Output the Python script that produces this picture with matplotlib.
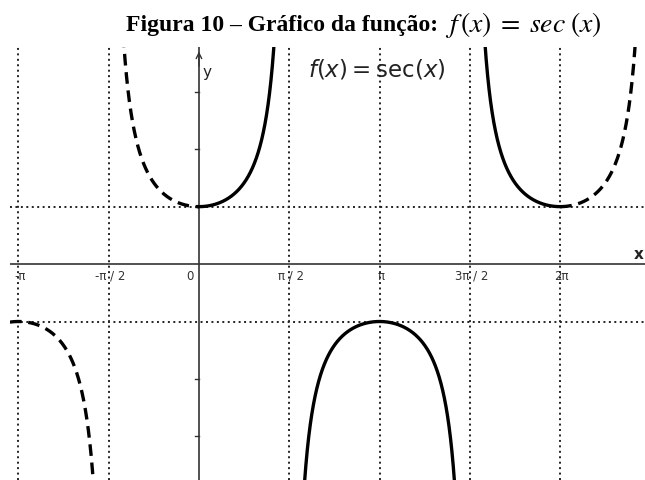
import numpy as np
import matplotlib.pyplot as plt

# x ticks (multiples of pi/2) and their labels
tick_pos = [-np.pi, -np.pi / 2, 0, np.pi / 2, np.pi, 3 * np.pi / 2, 2 * np.pi]
tick_lab = ["-π", "-π / 2", "0", "π / 2", "π", "3π / 2", "2π"]
grid_x = [-np.pi, -np.pi / 2, np.pi / 2, np.pi, 3 * np.pi / 2, 2 * np.pi]
grid_y = [1, -1]
y_ticks = [3, 2, -2, -3]

# branches of sec(x): (start, end, solid?)
branches = [
    (-3.3, -np.pi / 2, False),
    (-np.pi / 2, 0, False),
    (0, np.pi / 2, True),
    (np.pi / 2, 3 * np.pi / 2, True),
    (3 * np.pi / 2, 2 * np.pi, True),
    (2 * np.pi, 7.9, False),
]

xmin, xmax = -3.287, 7.76
ymin, ymax = -3.76, 3.78

fig = plt.figure(figsize=(6.45, 4.81), dpi=100)
ax = fig.add_axes([10 / 645, 0, 1 - 10 / 645, 1 - 48 / 481])
ax.set_xlim(xmin, xmax)
ax.set_ylim(ymin, ymax)
ax.axis("off")

dot = (0, (1, 1.8))
for gx in grid_x:
    ax.axvline(gx, color="#222222", lw=1.4, ls=dot, zorder=1)
for gy in grid_y:
    ax.axhline(gy, color="#222222", lw=1.4, ls=dot, zorder=1)

# axes lines
ax.axhline(0, color="#333333", lw=1.2, zorder=2)
ax.axvline(0, color="#333333", lw=1.2, zorder=2)
ax.annotate("", xy=(0, 3.75), xytext=(0, 3.4),
            arrowprops=dict(arrowstyle="->", color="#333333", lw=1.0))
for yt in y_ticks:
    ax.plot([-0.06, 0], [yt, yt], color="#333333", lw=1.0)

for a, b, solid in branches:
    xs = np.linspace(a + 1e-3, b - 1e-3, 1200)
    ys = 1 / np.cos(xs)
    ys[np.abs(ys) > 5] = np.nan
    ax.plot(xs, ys, color="black", lw=2.4,
            ls="-" if solid else (0, (3.5, 2)), zorder=3)

for p, lab in zip(tick_pos, tick_lab):
    dx = -0.15 if p == 0 else 0.03
    ax.text(p + dx, -0.08, lab, ha="center", va="top", fontsize=8.5,
            color="#333333")

ax.text(7.74, 0.05, "x", ha="right", va="bottom", fontsize=11,
        fontweight="bold", color="#222222")
ax.text(0.06, 3.35, "y", ha="left", va="center", fontsize=11,
        color="#222222")
ax.text(1.9, 3.4, r"$f(x) = \mathrm{sec}(x)$", ha="left", va="center",
        fontsize=16.5, color="#222222")

fig.text(0.688, 0.948, "Figura 10 – Gráfico da função: ", ha="right",
         va="center", fontsize=17, fontweight="bold", family="Liberation Serif")
fig.text(0.69, 0.948, r"$f\,(x)\; = \;sec\;(x)$", ha="left", va="center",
         fontsize=20, math_fontfamily="stix")

fig.savefig("out.png", dpi=100)
